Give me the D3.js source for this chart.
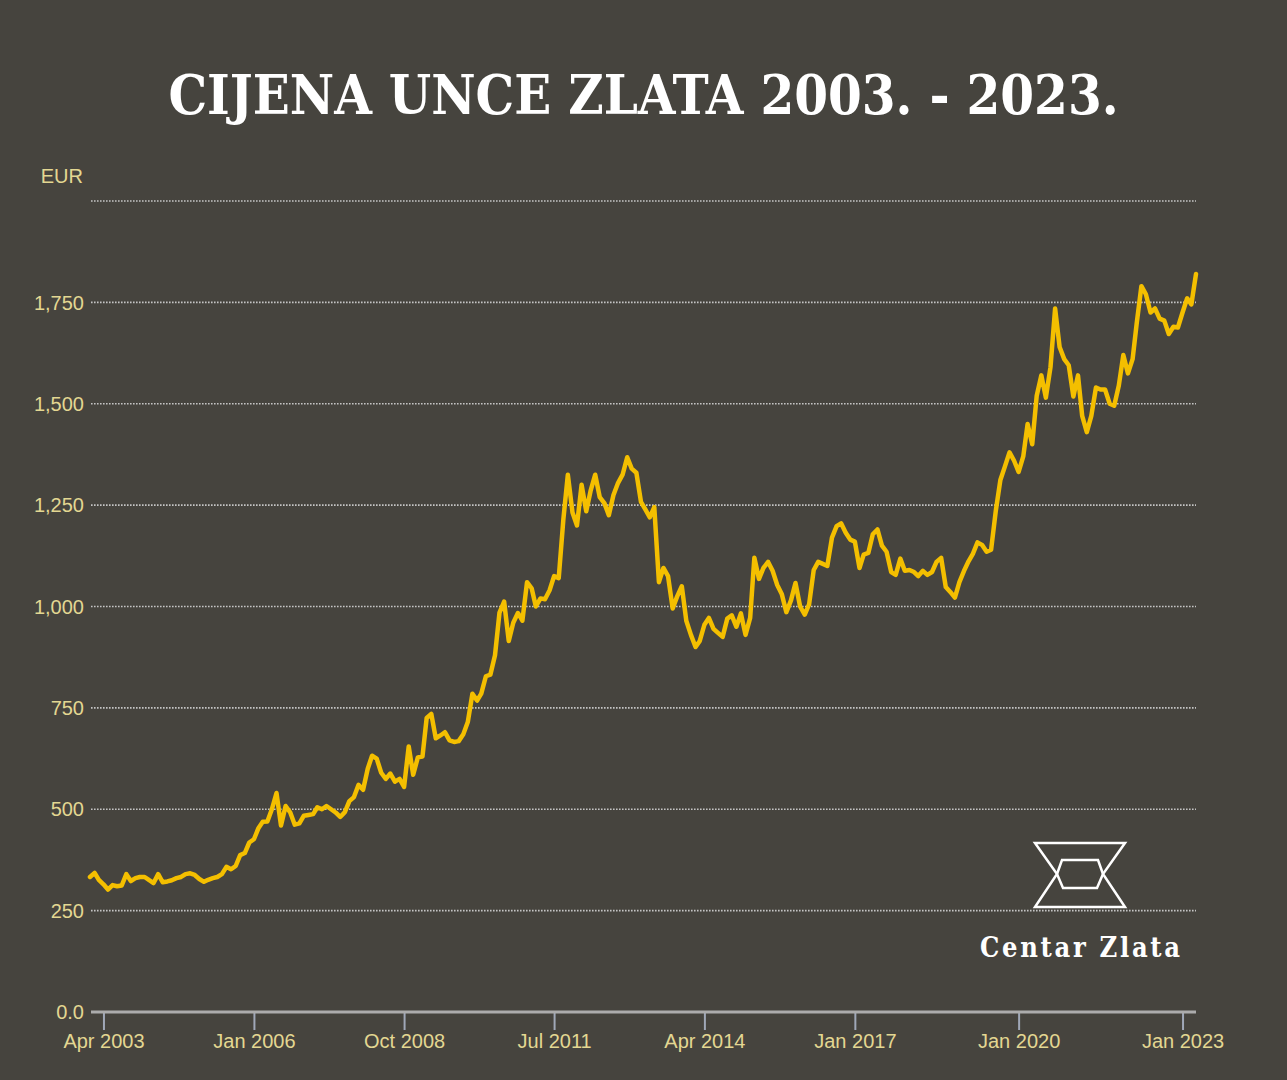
<!DOCTYPE html>
<html>
<head>
<meta charset="utf-8">
<script src="https://cdn.jsdelivr.net/npm/d3@7"></script>
<style>
  body { margin: 0; background: #46443e; }
  .label { font-family: "Liberation Sans", Arial, sans-serif; font-size: 20px; fill: #e3d792; }
</style>
</head>
<body>
<div id="chart"></div>
<script>
// data: monthly gold price per ounce in EUR, Jan 2003 - Apr 2023
var years = [2003, 2004, 2005, 2006, 2007, 2008, 2009, 2010, 2011, 2012, 2013,
             2014, 2015, 2016, 2017, 2018, 2019, 2020, 2021, 2022, 2023]
var monthlyPrices = [
  [333, 343, 326, 315, 302, 313, 310, 312, 340, 323, 330, 333],
  [333, 325, 318, 340, 320, 322, 325, 330, 333, 340, 342, 338],
  [328, 321, 326, 330, 333, 340, 358, 352, 360, 387, 392, 418],
  [426, 454, 469, 470, 500, 540, 460, 508, 492, 462, 465, 484],
  [486, 488, 505, 500, 508, 500, 492, 481, 493, 520, 530, 560],
  [548, 600, 632, 625, 590, 575, 588, 568, 575, 555, 655, 585],
  [628, 630, 725, 735, 675, 682, 690, 670, 666, 668, 685, 715],
  [785, 768, 785, 828, 832, 880, 985, 1012, 915, 960, 984, 965],
  [1060, 1045, 1000, 1020, 1018, 1040, 1075, 1070, 1215, 1325, 1232, 1200],
  [1300, 1235, 1285, 1325, 1270, 1255, 1225, 1275, 1305, 1325, 1368, 1340],
  [1330, 1258, 1240, 1220, 1245, 1060, 1095, 1075, 995, 1025, 1050, 965],
  [930, 900, 915, 955, 972, 945, 935, 925, 970, 978, 950, 983],
  [930, 972, 1120, 1068, 1095, 1110, 1088, 1053, 1030, 986, 1015, 1058],
  [1000, 980, 1005, 1090, 1110, 1105, 1100, 1170, 1198, 1205, 1182, 1165],
  [1160, 1095, 1128, 1132, 1178, 1190, 1150, 1135, 1085, 1078, 1118, 1088],
  [1090, 1085, 1075, 1088, 1078, 1085, 1110, 1120, 1048, 1036, 1022, 1060],
  [1088, 1112, 1130, 1158, 1152, 1135, 1140, 1235, 1312, 1345, 1380, 1360],
  [1332, 1370, 1450, 1400, 1520, 1570, 1515, 1590, 1735, 1640, 1610, 1595],
  [1518, 1570, 1470, 1430, 1470, 1540, 1535, 1535, 1500, 1495, 1545, 1620],
  [1575, 1610, 1700, 1790, 1770, 1725, 1735, 1710, 1705, 1672, 1690, 1688],
  [1725, 1760, 1745, 1820]
]
var xTickDates = ['2003-04', '2006-01', '2008-10', '2011-07', '2014-04', '2017-01', '2020-01', '2023-01']
var yTicks = [0, 250, 500, 750, 1000, 1250, 1500, 1750, 2000]

var titleText = 'CIJENA UNCE ZLATA 2003. - 2023.'
var unitText = 'EUR'
var brandText = 'Centar Zlata'

var W = 1287, H = 1080
var margin = { top: 201, right: 91, bottom: 68, left: 90 }
var width = W - margin.left - margin.right
var height = H - margin.top - margin.bottom

var parseMonth = d3.timeParse('%Y-%m')

// flatten year rows into {date, value}
var data = []
years.forEach(function (y, i) {
  monthlyPrices[i].forEach(function (v, m) {
    data.push({ date: new Date(y, m, 1), value: v })
  })
})

var svg = d3.select('#chart').append('svg')
  .attr('width', W)
  .attr('height', H)
  .style('display', 'block')

svg.append('rect').attr('width', W).attr('height', H).attr('fill', '#46443e')

// title
svg.append('text')
  .attr('x', 643.5)
  .attr('y', 114)
  .attr('text-anchor', 'middle')
  .style('font-family', '"DejaVu Serif", serif')
  .style('font-stretch', 'condensed')
  .style('font-weight', 'bold')
  .style('font-size', '54px')
  .style('fill', '#ffffff')
  .text(titleText)

var g = svg.append('g')
  .attr('transform', 'translate(' + margin.left + ',' + margin.top + ')')

// scales
var xScale = d3.scaleTime()
  .domain(d3.extent(data, function (d) { return d.date }))
  .range([0, width])

var yScale = d3.scaleLinear()
  .domain([0, 2000])
  .range([height, 0])

// gridlines
g.append('g').selectAll('line')
  .data(yTicks.filter(function (d) { return d > 0 }))
  .enter().append('line')
  .attr('x1', 1)
  .attr('x2', width)
  .attr('y1', function (d) { return yScale(d) })
  .attr('y2', function (d) { return yScale(d) })
  .attr('stroke', '#c4c4c4')
  .attr('stroke-width', 1.6)
  .attr('stroke-dasharray', '1.6 1.4')

// y labels
g.append('g').selectAll('text')
  .data(yTicks.filter(function (d) { return d < 2000 }))
  .enter().append('text')
  .attr('class', 'label')
  .attr('x', -6)
  .attr('y', function (d) { return yScale(d) })
  .attr('dy', '0.36em')
  .attr('text-anchor', 'end')
  .text(function (d) { return d === 0 ? '0.0' : d3.format(',')(d) })

g.append('text')
  .attr('class', 'label')
  .attr('x', -7)
  .attr('y', -18)
  .attr('text-anchor', 'end')
  .text(unitText)

// x axis
var xAxis = d3.axisBottom(xScale)
  .tickValues(xTickDates.map(parseMonth))
  .tickFormat(d3.timeFormat('%b %Y'))
  .tickSize(18)
  .tickPadding(4)

var xg = g.append('g')
  .attr('transform', 'translate(0,' + height + ')')
  .call(xAxis)
xg.select('.domain').remove()
xg.selectAll('.tick line').attr('stroke', '#a0a8b8').attr('stroke-width', 2)
xg.selectAll('.tick text')
  .attr('class', 'label')
  .attr('fill', null)
  .style('font-size', '20px')
  .style('font-family', '"Liberation Sans", Arial, sans-serif')

g.append('line')
  .attr('x1', 1)
  .attr('x2', width)
  .attr('y1', height)
  .attr('y2', height)
  .attr('stroke', '#acacac')
  .attr('stroke-width', 3)

// price line
var line = d3.line()
  .x(function (d) { return xScale(d.date) })
  .y(function (d) { return yScale(d.value) })

g.append('path')
  .datum(data)
  .attr('fill', 'none')
  .attr('stroke', '#f4bf00')
  .attr('stroke-width', 4.5)
  .attr('stroke-linejoin', 'round')
  .attr('stroke-linecap', 'round')
  .attr('d', line)

// logo
var logo = svg.append('g')
  .attr('transform', 'translate(1035,843)')
  .attr('fill', 'none')
  .attr('stroke', '#ffffff')
  .attr('stroke-width', 2.5)
  .attr('stroke-linejoin', 'miter')
logo.append('path').attr('d', 'M0,0 L90,0 L68,31 L90,64 L0,64 L22,31 Z')
logo.append('path').attr('d', 'M27,17 L63,17 L68,31 L62,45 L28,45 L22,31 Z')

svg.append('text')
  .attr('x', 980)
  .attr('y', 957)
  .style('font-family', '"DejaVu Serif", serif')
  .style('font-stretch', 'condensed')
  .style('font-weight', 'bold')
  .style('font-size', '27px')
  .style('letter-spacing', '2.7px')
  .style('fill', '#ffffff')
  .text(brandText)
</script>
</body>
</html>
